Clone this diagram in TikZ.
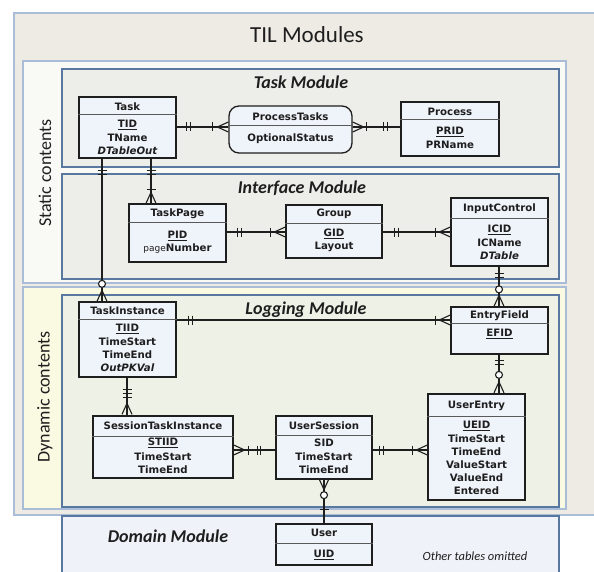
\documentclass[tikz,border=0pt]{standalone}
\usepackage{fontspec}
\setmainfont{Carlito}
\newfontfamily\entfont{DejaVu Sans}
\usetikzlibrary{calc}
\definecolor{outerfill}{HTML}{EDEBE3}
\definecolor{outerborder}{HTML}{A9BDD8}
\definecolor{staticfill}{HTML}{F9F9F5}
\definecolor{dynfill}{HTML}{FAF9E2}
\definecolor{modborder}{HTML}{5878A0}
\definecolor{modfill}{HTML}{EDEDE9}
\definecolor{logfill}{HTML}{EEF1E6}
\definecolor{domfill}{HTML}{EFF3F9}
\definecolor{entfill}{HTML}{EFF3FA}
\definecolor{ink}{HTML}{1E1E1E}
\tikzset{
  outerb/.style={draw=outerborder, line width=1.3pt, fill=outerfill},
  grpb/.style={draw=outerborder, line width=1.3pt},
  modb/.style={draw=modborder, line width=2pt},
  titlef/.style={font=\fontsize{23}{26}\selectfont, text=ink, inner sep=0},
  modt/.style={font=\fontsize{18}{20}\selectfont\bfseries\itshape, text=ink, inner sep=0},
  sidef/.style={font=\fontsize{18}{20}\selectfont, text=ink, inner sep=0},
  ent/.style={draw=ink, line width=1.3pt, fill=entfill, inner sep=0},
  et/.style={font=\entfont\bfseries\fontsize{10.2}{12}\selectfont, text=ink, inner sep=0},
  divl/.style={draw=black!65, line width=1pt},
  conn/.style={draw=ink, line width=1.1pt},
  vtick/.pic={\draw[conn] (0,-4.5) -- (0,4.5);},
  htick/.pic={\draw[conn] (-4.5,0) -- (4.5,0);},
  crowR/.pic={\draw[conn] (0,0) -- (11,-5) (0,0) -- (11,0) (0,0) -- (11,5);},
  crowL/.pic={\draw[conn] (0,0) -- (-11,-5) (0,0) -- (-11,0) (0,0) -- (-11,5);},
  crowD/.pic={\draw[conn] (0,0) -- (-5,11) (0,0) -- (0,11) (0,0) -- (5,11);},
  crowU/.pic={\draw[conn] (0,0) -- (-5,-11) (0,0) -- (0,-11) (0,0) -- (5,-11);},
  zcirc/.pic={\draw[conn, fill=white] (0,0) circle (3.5);}
}
\begin{document}
\begin{tikzpicture}[x=1pt,y=-1pt]
\useasboundingbox (0,0) rectangle (594,572);
\clip (0,0) rectangle (594,572);
\fill[white] (0,0) rectangle (594,572);
% outer frame
\draw[outerb] (14,13) rectangle (610,515);
\node[titlef] (title) at (307,35) {TIL Modules};
\draw[grpb, fill=staticfill] (23,61) rectangle (566,283);
\draw[grpb, fill=dynfill] (23,287) rectangle (566,509);
\node[sidef, rotate=90] (stat) at (45,173) {Static contents};
\node[sidef, rotate=90] (dyn) at (45,397) {Dynamic contents};
% modules
\draw[modb, fill=modfill] (62,69) rectangle (559,167);
\draw[modb, fill=modfill] (62,174) rectangle (559,279);
\draw[modb, fill=logfill] (62,295) rectangle (559,507);
\draw[modb, fill=domfill] (62,516) rectangle (559,600);
\node[modt] (tm) at (301,82) {Task Module};
\node[modt] (im) at (302,188) {Interface Module};
\node[modt] (lm) at (306,310) {Logging Module};
\node[modt] (dm) at (168,536) {Domain Module};
\node[font=\fontsize{12.5}{14}\selectfont\itshape, text=ink, inner sep=0] (oth) at (475,556) {Other tables omitted};

% ---------- entities ----------
% Task
\node[ent, minimum width=97pt, minimum height=61pt] (task) at (127.5,127.5) {};
\draw[divl] (task.west |- 0,115) -- (task.east |- 0,115);
\node[et] (task-t) at (127.5,107) {Task};
\node[et] (task-a) at (127.5,125) {\underline{TID}};
\node[et] (task-b) at (127.5,137.5) {TName};
\node[et] (task-c) at (127.5,150.5) {\itshape DTableOut};
% ProcessTasks
\node[ent, rounded corners=10pt, minimum width=123pt, minimum height=47pt] (pt) at (290.5,129.5) {};
\draw[divl] (pt.west |- 0,126) -- (pt.east |- 0,126);
\node[et] (pt-t) at (290.5,117) {ProcessTasks};
\node[et] (pt-a) at (290.5,138.5) {OptionalStatus};
% Process
\node[ent, minimum width=98pt, minimum height=54pt] (proc) at (450,129) {};
\draw[divl] (proc.west |- 0,120) -- (proc.east |- 0,120);
\node[et] (proc-t) at (450,111.5) {Process};
\node[et] (proc-a) at (450,132) {\underline{PRID}};
\node[et] (proc-b) at (450,145) {PRName};
% TaskPage
\node[ent, minimum width=97pt, minimum height=58pt] (tp) at (177.5,233) {};
\draw[divl] (tp.west |- 0,222) -- (tp.east |- 0,222);
\node[et] (tp-t) at (177.5,213.5) {TaskPage};
\node[et] (tp-a) at (177.5,236) {\underline{PID}};
\node[et] (tp-b) at (177.5,249) {{\mdseries\fontsize{9}{10}\selectfont page}Number};
% Group
\node[ent, minimum width=96pt, minimum height=53pt] (grp) at (334,231.5) {};
\draw[divl] (grp.west |- 0,223) -- (grp.east |- 0,223);
\node[et] (grp-t) at (334,214) {Group};
\node[et] (grp-a) at (334,234) {\underline{GID}};
\node[et] (grp-b) at (334,247) {Layout};
% InputControl
\node[ent, minimum width=97pt, minimum height=68pt] (ic) at (499.5,232) {};
\draw[divl] (ic.west |- 0,218) -- (ic.east |- 0,218);
\node[et] (ic-t) at (499.5,208.5) {InputControl};
\node[et] (ic-a) at (499.5,230) {\underline{ICID}};
\node[et] (ic-b) at (499.5,243) {ICName};
\node[et] (ic-c) at (499.5,255.5) {\itshape DTable};
% TaskInstance
\node[ent, minimum width=97pt, minimum height=75pt] (ti) at (127.5,339.5) {};
\draw[divl] (ti.west |- 0,319) -- (ti.east |- 0,319);
\node[et] (ti-t) at (127.5,310.5) {TaskInstance};
\node[et] (ti-a) at (127.5,329) {\underline{TIID}};
\node[et] (ti-b) at (127.5,342) {TimeStart};
\node[et] (ti-c) at (127.5,355) {TimeEnd};
\node[et] (ti-d) at (127.5,368) {\itshape OutPKVal};
% EntryField
\node[ent, minimum width=97pt, minimum height=47pt] (ef) at (499.5,330.5) {};
\draw[divl] (ef.west |- 0,323) -- (ef.east |- 0,323);
\node[et] (ef-t) at (499.5,315.5) {EntryField};
\node[et] (ef-a) at (499.5,334) {\underline{EFID}};
% SessionTaskInstance
\node[ent, minimum width=140pt, minimum height=62pt] (sti) at (163,447) {};
\draw[divl] (sti.west |- 0,436) -- (sti.east |- 0,436);
\node[et] (sti-t) at (163,426) {SessionTaskInstance};
\node[et] (sti-a) at (163,443) {\underline{STIID}};
\node[et] (sti-b) at (163,456.5) {TimeStart};
\node[et] (sti-c) at (163,469.5) {TimeEnd};
% UserSession
\node[ent, minimum width=96pt, minimum height=63pt] (us) at (324,447.5) {};
\draw[divl] (us.west |- 0,435) -- (us.east |- 0,435);
\node[et] (us-t) at (324,426) {UserSession};
\node[et] (us-a) at (324,443) {SID};
\node[et] (us-b) at (324,456.5) {TimeStart};
\node[et] (us-c) at (324,469.5) {TimeEnd};
% UserEntry
\node[ent, minimum width=97pt, minimum height=106pt] (ue) at (476.5,447) {};
\draw[divl] (ue.west |- 0,416) -- (ue.east |- 0,416);
\node[et] (ue-t) at (476.5,405.5) {UserEntry};
\node[et] (ue-a) at (476.5,426) {\underline{UEID}};
\node[et] (ue-b) at (476.5,439) {TimeStart};
\node[et] (ue-c) at (476.5,452) {TimeEnd};
\node[et] (ue-d) at (476.5,465) {ValueStart};
\node[et] (ue-e) at (476.5,478) {ValueEnd};
\node[et] (ue-f) at (476.5,491) {Entered};
% User
\node[ent, minimum width=96pt, minimum height=41pt] (usr) at (324,544.5) {};
\draw[divl] (usr.west |- 0,543) -- (usr.east |- 0,543);
\node[et] (usr-t) at (324,533) {User};
\node[et] (usr-a) at (324,555) {\underline{UID}};

% ---------- connectors ----------
% 1 Task -- ProcessTasks
\coordinate (c1a) at (task.east |- 0,127);
\coordinate (c1b) at (pt.west |- 0,127);
\draw[conn] (c1a) -- (c1b);
\pic at ($(c1a)+(10,0)$) {vtick};
\pic at ($(c1a)+(13.5,0)$) {vtick};
\pic at ($(c1b)+(-16,0)$) {vtick};
\pic at ($(c1b)+(-11,0)$) {crowR};
% 2 ProcessTasks -- Process
\coordinate (c2a) at (pt.east |- 0,127);
\coordinate (c2b) at (proc.west |- 0,127);
\draw[conn] (c2a) -- (c2b);
\pic at ($(c2a)+(11,0)$) {crowL};
\pic at ($(c2a)+(14,0)$) {vtick};
\pic at ($(c2b)+(-16.5,0)$) {vtick};
\pic at ($(c2b)+(-13,0)$) {vtick};
% 3 Task -- TaskInstance
\coordinate (c3a) at (102,0 |- task.south);
\coordinate (c3b) at (102,0 |- ti.north);
\draw[conn] (c3a) -- (c3b);
\pic at ($(c3a)+(0,12)$) {htick};
\pic at ($(c3a)+(0,15.5)$) {htick};
\pic at ($(c3b)+(0,-17.5)$) {zcirc};
\pic at ($(c3b)+(0,-11)$) {crowD};
% 4 Task -- TaskPage
\coordinate (c4a) at (151,0 |- task.south);
\coordinate (c4b) at (151,0 |- tp.north);
\draw[conn] (c4a) -- (c4b);
\pic at ($(c4a)+(0,12)$) {htick};
\pic at ($(c4a)+(0,15.5)$) {htick};
\pic at ($(c4b)+(0,-14)$) {htick};
\pic at ($(c4b)+(0,-11)$) {crowD};
% 5 TaskPage -- Group
\coordinate (c5a) at (tp.east |- 0,232);
\coordinate (c5b) at (grp.west |- 0,232);
\draw[conn] (c5a) -- (c5b);
\pic at ($(c5a)+(11,0)$) {vtick};
\pic at ($(c5a)+(14.5,0)$) {vtick};
\pic at ($(c5b)+(-15,0)$) {vtick};
\pic at ($(c5b)+(-11,0)$) {crowR};
% 6 Group -- InputControl
\coordinate (c6a) at (grp.east |- 0,232);
\coordinate (c6b) at (ic.west |- 0,232);
\draw[conn] (c6a) -- (c6b);
\pic at ($(c6a)+(12,0)$) {vtick};
\pic at ($(c6a)+(15.5,0)$) {vtick};
\pic at ($(c6b)+(-15,0)$) {vtick};
\pic at ($(c6b)+(-11,0)$) {crowR};
% 7 InputControl -- EntryField
\coordinate (c7a) at (499,0 |- ic.south);
\coordinate (c7b) at (499,0 |- ef.north);
\draw[conn] (c7a) -- (c7b);
\pic at ($(c7a)+(0,7)$) {htick};
\pic at ($(c7a)+(0,10.5)$) {htick};
\pic at ($(c7b)+(0,-17)$) {zcirc};
\pic at ($(c7b)+(0,-11)$) {crowD};
% 8 TaskInstance -- EntryField
\coordinate (c8a) at (ti.east |- 0,320);
\coordinate (c8b) at (ef.west |- 0,320);
\draw[conn] (c8a) -- (c8b);
\pic at ($(c8a)+(12,0)$) {vtick};
\pic at ($(c8a)+(15.5,0)$) {vtick};
\pic at ($(c8b)+(-15,0)$) {vtick};
\pic at ($(c8b)+(-11,0)$) {crowR};
% 9 TaskInstance -- SessionTaskInstance
\coordinate (c9a) at (127,0 |- ti.south);
\coordinate (c9b) at (127,0 |- sti.north);
\draw[conn] (c9a) -- (c9b);
\pic at ($(c9a)+(0,12)$) {htick};
\pic at ($(c9a)+(0,15.5)$) {htick};
\pic at ($(c9b)+(0,-18)$) {htick};
\pic at ($(c9b)+(0,-12)$) {crowD};
% 10 EntryField -- UserEntry
\coordinate (c10a) at (499,0 |- ef.south);
\coordinate (c10b) at (499,0 |- ue.north);
\draw[conn] (c10a) -- (c10b);
\pic at ($(c10a)+(0,6)$) {htick};
\pic at ($(c10a)+(0,9.5)$) {htick};
\pic at ($(c10b)+(0,-18.5)$) {zcirc};
\pic at ($(c10b)+(0,-11.5)$) {crowD};
% 11 SessionTaskInstance -- UserSession
\coordinate (c11a) at (sti.east |- 0,450);
\coordinate (c11b) at (us.west |- 0,450);
\draw[conn] (c11a) -- (c11b);
\pic at ($(c11a)+(11,0)$) {crowL};
\pic at ($(c11a)+(15,0)$) {vtick};
\pic at ($(c11b)+(-18,0)$) {vtick};
\pic at ($(c11b)+(-14.5,0)$) {vtick};
% 12 UserSession -- UserEntry
\coordinate (c12a) at (us.east |- 0,450);
\coordinate (c12b) at (ue.west |- 0,450);
\draw[conn] (c12a) -- (c12b);
\pic at ($(c12a)+(7,0)$) {vtick};
\pic at ($(c12a)+(10.5,0)$) {vtick};
\pic at ($(c12b)+(-15,0)$) {vtick};
\pic at ($(c12b)+(-11,0)$) {crowR};
% 13 UserSession -- User
\coordinate (c13a) at (324,0 |- us.south);
\coordinate (c13b) at (324,0 |- usr.north);
\draw[conn] (c13a) -- (c13b);
\pic at ($(c13a)+(0,10)$) {crowU};
\pic at ($(c13a)+(0,15.5)$) {zcirc};
\pic at ($(c13b)+(0,-14)$) {htick};
\end{tikzpicture}
\end{document}
